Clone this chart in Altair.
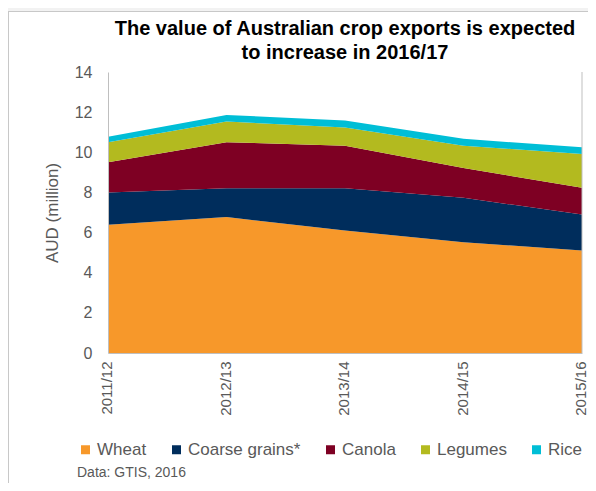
import altair as alt
import pandas as pd

years = ["2011/12", "2012/13", "2013/14", "2014/15", "2015/16"]
series = ["Wheat", "Coarse grains*", "Canola", "Legumes", "Rice"]
wheat = [6.39, 6.77, 6.10, 5.52, 5.11]
coarse = [1.61, 1.44, 2.11, 2.21, 1.79]
canola = [1.50, 2.29, 2.12, 1.49, 1.33]
legumes = [1.00, 1.03, 0.91, 1.11, 1.69]
rice = [0.28, 0.33, 0.34, 0.34, 0.33]
colors = ["#F7982A", "#002D5C", "#7E0023", "#B3BA1F", "#00BED6"]
y_ticks = [0, 2, 4, 6, 8, 10, 12, 14]

rows = []
for idx, (name, vals) in enumerate(zip(series, [wheat, coarse, canola, legumes, rice])):
    for yr, v in zip(years, vals):
        rows.append({"year": yr, "series": name, "value": v, "idx": idx})
df = pd.DataFrame(rows)

W, H = 474, 281
FONT = "Liberation Sans"
GREY = "#595959"

area = alt.Chart(df).mark_area(opacity=1, interpolate="linear").encode(
    x=alt.X("year:O", sort=years, scale=alt.Scale(padding=0),
            axis=alt.Axis(title=None, labelAngle=270, labelFontSize=15, labelColor=GREY,
                          ticks=False, domainColor="#bfbfbf", labelPadding=8, labelOffset=-1.5,
                          zindex=1)),
    y=alt.Y("value:Q", stack="zero", scale=alt.Scale(domain=[0, 14], nice=False),
            axis=alt.Axis(values=y_ticks, grid=False, ticks=False, domainColor="#bfbfbf",
                          labelFontSize=16, labelColor=GREY, labelPadding=16,
                          title="AUD (million)", titleFontSize=17, titleFontWeight="normal",
                          titleColor=GREY, titleX=-56, titleY=H / 2, titleAngle=270,
                          titleAlign="center", titleBaseline="middle", zindex=1)),
    color=alt.Color("series:N", sort=series, scale=alt.Scale(domain=series, range=colors),
                    legend=alt.Legend(orient="none", legendX=-31, legendY=369, direction="horizontal",
                                      title="Data: GTIS, 2016", titleOrient="bottom", titleAnchor="start",
                                      titleFontSize=14, titleFontWeight="normal", titleColor=GREY,
                                      titlePadding=8, labelFontSize=17, labelColor=GREY,
                                      symbolType="square", symbolSize=81, symbolStrokeWidth=0,
                                      labelOffset=3, columnPadding=21, padding=0, symbolOpacity=1)),
    order=alt.Order("idx:Q", sort="ascending"),
)

one = pd.DataFrame({"a": [0]})
right_line = alt.Chart(one).mark_rule(color="#bfbfbf", strokeWidth=1).encode(
    x=alt.value(W), y=alt.value(0), y2=alt.value(H))
top_strip = alt.Chart(one).mark_rect(color="#f2f2f2").encode(
    x=alt.value(-100), x2=alt.value(W + 6), y=alt.value(-64), y2=alt.value(-60.5))
top_border = alt.Chart(one).mark_rule(color="#c8c8c8", strokeWidth=1).encode(
    x=alt.value(-100), x2=alt.value(W + 6), y=alt.value(-60.5))
left_border = alt.Chart(one).mark_rule(color="#c8c8c8", strokeWidth=1).encode(
    x=alt.value(-99.5), y=alt.value(-60.5), y2=alt.value(H + 130))

chart = alt.layer(top_strip, top_border, left_border, area, right_line).properties(
    width=W, height=H,
    padding={"left": 100, "top": 64, "right": 6, "bottom": 130},
    autosize=alt.AutoSizeParams(type="none"),
    background="white",
    title=alt.TitleParams(
        text=["The value of Australian crop exports is expected", "to increase in 2016/17"],
        fontSize=20, font=FONT, fontWeight="bold", color="black",
        anchor="middle", frame="group", offset=-71, baseline="alphabetic", lineHeight=24),
).configure(font=FONT).configure_view(stroke=None)

chart.save("out.html", embed_options={"renderer": "svg", "actions": False})
